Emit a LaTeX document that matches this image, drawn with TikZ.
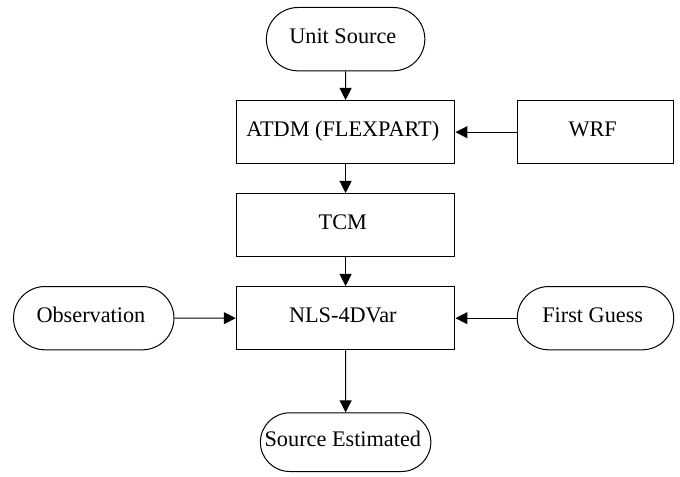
\documentclass[tikz,border=0pt]{standalone}
\usepackage{fontspec}
\setmainfont{Liberation Serif}
\usetikzlibrary{matrix,positioning,arrows.meta,shapes.misc,calc}

\begin{document}
\begin{tikzpicture}[
    box/.style={
      draw,
      line width=0.75pt,
      minimum width=164pt,
      minimum height=47.5pt,
      text height=1.45ex,
      text depth=0pt,
      align=center,
      font=\fontsize{16.7}{19}\selectfont
    },
    term/.style={
      rounded rectangle,
      minimum width=125.5pt
    },
    arr/.style={
      -{Triangle[length=9pt,width=9pt]},
      line width=0.75pt
    },
    row sep=21.5pt,
    column sep=46pt
  ]
    \matrix (M) [matrix of nodes, nodes={box,anchor=center}] {
                                           & |[term]| Unit Source  &                                        \\
                                           & ATDM (FLEXPART)       & |[minimum width=117pt]| WRF            \\
                                           & TCM                   &                                        \\
      |[term,minimum width=127pt]| Observation & NLS-4DVar         & |[term,minimum width=124pt]| First Guess \\[25pt]
                                           & |[term,minimum width=134.5pt,minimum height=44pt]| Source Estimated & \\
    };
    \draw[arr] (M-1-2) -- (M-2-2);
    \draw[arr] (M-2-3) -- (M-2-2);
    \draw[arr] (M-2-2) -- (M-3-2);
    \draw[arr] (M-3-2) -- (M-4-2);
    \draw[arr] (M-4-1) -- (M-4-2);
    \draw[arr] (M-4-3) -- (M-4-2);
    \draw[arr] (M-4-2) -- (M-5-2);
    % page margins as in the original
    \path[use as bounding box] let \p1=(M-4-1.west), \p2=(M-1-2.north) in
      (\x1-9.75pt,\y2+5.25pt) rectangle ++(510pt,-357.75pt);
  \end{tikzpicture}
\end{document}
